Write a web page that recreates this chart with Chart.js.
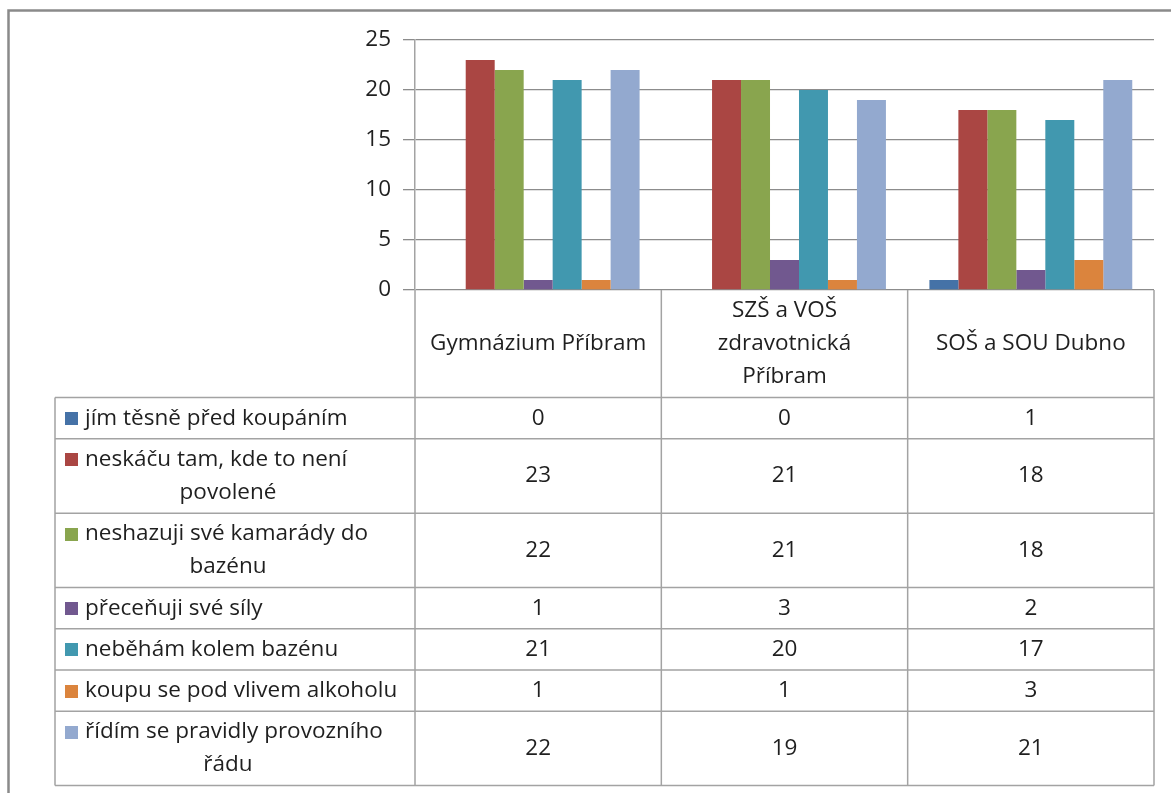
<!DOCTYPE html>
<html>
<head>
<meta charset="utf-8">
<script src="https://cdn.jsdelivr.net/npm/chart.js@4/dist/chart.umd.min.js"></script>
<style>
  html, body { margin: 0; padding: 0; background: #fff; }
  #graf { display: block; }
</style>
</head>
<body>
<canvas id="graf" width="1171" height="793"></canvas>
<script>
// školy (kategorie), víceřádkové popisky
const skoly = [
  ['Gymnázium Příbram'],
  ['SZŠ a VOŠ', 'zdravotnická', 'Příbram'],
  ['SOŠ a SOU Dubno']
];

// názvy odpovědí, rozdělené na řádky jako v tabulce
const odpovedi = [
  ['jím těsně před koupáním'],
  ['neskáču tam, kde to není', 'povolené'],
  ['neshazuji své kamarády do', 'bazénu'],
  ['přeceňuji své síly'],
  ['neběhám kolem bazénu'],
  ['koupu se pod vlivem alkoholu'],
  ['řídím se pravidly provozního', 'řádu']
];

// počty odpovědí za jednotlivé školy
const jim = [0, 0, 1];
const neskacu = [23, 21, 18];
const neshazuji = [22, 21, 18];
const preceNuji = [1, 3, 2];
const nebeham = [21, 20, 17];
const alkohol = [1, 1, 3];
const pravidla = [22, 19, 21];

const osaY = [0, 5, 10, 15, 20, 25];

const barvy = ['#4572A7', '#AA4643', '#89A54E', '#71588F', '#4198AF', '#DB843D', '#93A9CF'];
const hodnoty = [jim, neskacu, neshazuji, preceNuji, nebeham, alkohol, pravidla];

const PISMO = '22.5px "Open Sans"';
const RADEK = 33.2;   // výška řádku textu
const OKRAJ = 8;      // svislý okraj buňky
const LEVY = 55;      // levý okraj tabulky
const CARA = '#a3a3a3';
const TEXT = '#1f1f1f';

// tabulka s daty pod grafem
const tabulka = {
  id: 'tabulka',
  afterDraw(chart) {
    const ctx = chart.ctx;
    const area = chart.chartArea;
    const x = chart.scales.x;
    const sirka = area.width / skoly.length;
    const vyskaHlavicky = OKRAJ + RADEK * Math.max(...skoly.map(s => s.length));
    const vysky = odpovedi.map(o => OKRAJ + RADEK * o.length);
    const dole = area.bottom + vyskaHlavicky + vysky.reduce((a, b) => a + b, 0);

    ctx.save();
    ctx.font = PISMO;
    ctx.fillStyle = TEXT;
    ctx.textBaseline = 'middle';

    // hlavička se jmény škol
    ctx.textAlign = 'center';
    skoly.forEach((s, i) => {
      const cx = x.getPixelForValue(i);
      const stred = area.bottom + vyskaHlavicky / 2;
      s.forEach((t, k) => {
        ctx.fillText(t, cx, stred + (k - (s.length - 1) / 2) * RADEK);
      });
    });

    // řádky s odpověďmi
    let y = area.bottom + vyskaHlavicky;
    const hranice = [y];
    odpovedi.forEach((o, r) => {
      const h = vysky[r];
      const stred = y + h / 2;
      o.forEach((t, k) => {
        const ty = stred + (k - (o.length - 1) / 2) * RADEK;
        if (k === 0) {
          ctx.fillStyle = barvy[r];
          ctx.fillRect(65, Math.round(ty - 6), 13, 13);
          ctx.fillStyle = TEXT;
          ctx.textAlign = 'left';
          ctx.fillText(t, 85, ty);
        } else {
          ctx.textAlign = 'center';
          ctx.fillText(t, 228, ty);
        }
      });
      ctx.textAlign = 'center';
      hodnoty[r].forEach((v, i) => {
        ctx.fillText(String(v), x.getPixelForValue(i), stred);
      });
      y += h;
      hranice.push(y);
    });

    // mřížka tabulky
    ctx.strokeStyle = CARA;
    ctx.lineWidth = 1.5;
    ctx.beginPath();
    hranice.forEach(hy => {
      ctx.moveTo(LEVY, hy);
      ctx.lineTo(area.right, hy);
    });
    ctx.moveTo(LEVY, hranice[0]);
    ctx.lineTo(LEVY, dole);
    for (let i = 0; i <= skoly.length; i++) {
      const vx = area.left + i * sirka;
      ctx.moveTo(vx, area.bottom);
      ctx.lineTo(vx, dole);
    }
    ctx.stroke();

    // rámeček celého grafu
    ctx.strokeStyle = '#8a8a8a';
    ctx.lineWidth = 2.5;
    ctx.beginPath();
    ctx.moveTo(8.5, chart.height);
    ctx.lineTo(8.5, 10.5);
    ctx.lineTo(chart.width, 10.5);
    ctx.stroke();
    ctx.restore();
  }
};

new Chart(document.getElementById('graf'), {
  type: 'bar',
  data: {
    labels: skoly,
    datasets: odpovedi.map((o, i) => ({
      label: o.join(' '),
      data: hodnoty[i],
      backgroundColor: barvy[i],
      borderWidth: 0,
      categoryPercentage: 7 / 8.5,
      barPercentage: 1
    }))
  },
  options: {
    responsive: false,
    animation: false,
    layout: { padding: { top: 40, left: 0, right: 17, bottom: 503 } },
    plugins: {
      legend: { display: false },
      tooltip: { enabled: false }
    },
    scales: {
      x: { display: false },
      y: {
        min: 0,
        max: 25,
        afterFit(s) { s.width = 415; },
        afterBuildTicks(s) { s.ticks = osaY.map(v => ({ value: v })); },
        ticks: {
          font: { family: 'Open Sans', size: 22.5 },
          color: TEXT,
          padding: 12
        },
        grid: { color: '#8c8c8c', lineWidth: 1.3, tickLength: 12 },
        border: { color: '#a3a3a3', width: 1.5 }
      }
    }
  },
  plugins: [tabulka]
});
</script>
</body>
</html>
